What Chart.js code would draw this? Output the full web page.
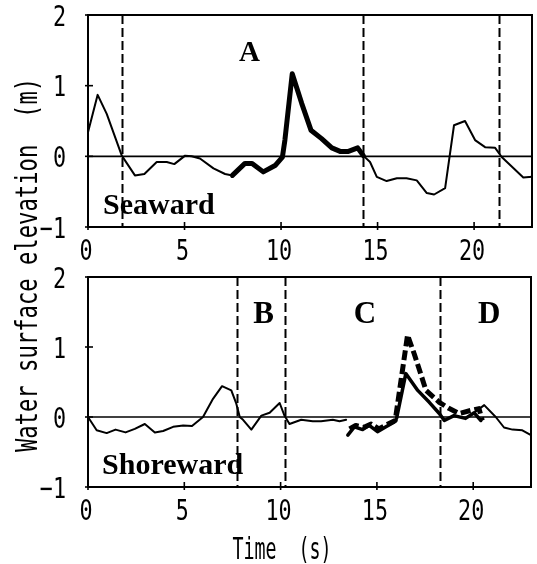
<!DOCTYPE html>
<html>
<head>
<meta charset="utf-8">
<script src="https://cdn.jsdelivr.net/npm/chart.js@4/dist/chart.umd.min.js"></script>
<style>
  html, body { margin: 0; padding: 0; background: #fff; }
  #wrap { position: relative; width: 537px; height: 564px; }
  #wrap canvas { position: absolute; left: 0; top: 0; }
</style>
</head>
<body>
<div id="wrap">
  <canvas id="seaward" width="537" height="564"></canvas>
  <canvas id="shoreward" width="537" height="564"></canvas>
</div>
<script>
// Water surface elevation records (time in s, elevation in m)

const xTicks = [0, 5, 10, 15, 20];
const yTicks = [-1, 0, 1, 2];

// seaward gauge, full record
const seaTime = [0, 0.5, 0.97, 1.75, 2.43, 2.92, 3.56, 4.08, 4.47, 5.03, 5.37, 5.8, 6.5, 7.1, 7.48,
  8.13, 8.5, 9.08, 9.69, 10.07, 10.2, 10.58, 11.07, 11.55, 12.1, 12.63, 13.06, 13.49, 13.97, 14.26,
  14.61, 14.96, 15.47, 16.0, 16.5, 17.03, 17.55, 17.93, 18.5, 18.96, 19.53, 20.05, 20.57, 21.09,
  21.43, 22.55, 23];
const seaElev = [0.34, 0.87, 0.6, 0.01, -0.27, -0.25, -0.08, -0.08, -0.11, 0.01, 0.0, -0.03, -0.17, -0.25, -0.27,
  -0.1, -0.1, -0.22, -0.13, -0.01, 0.23, 1.17, 0.75, 0.37, 0.25, 0.12, 0.07, 0.07, 0.12, 0.01,
  -0.08, -0.29, -0.35, -0.31, -0.31, -0.34, -0.52, -0.54, -0.45, 0.44, 0.5, 0.23, 0.13, 0.12,
  -0.01, -0.3, -0.29];

// seaward gauge, highlighted wave A
const waveATime = [7.48, 8.13, 8.5, 9.08, 9.69, 10.07, 10.2, 10.58, 11.07, 11.55, 12.1, 12.63, 13.06, 13.49, 13.97, 14.26];
const waveAElev = [-0.27, -0.1, -0.1, -0.22, -0.13, -0.01, 0.23, 1.17, 0.75, 0.37, 0.25, 0.12, 0.07, 0.07, 0.12, 0.01];

// shoreward gauge (null = gap in record)
const shoreTime = [0, 0.45, 0.97, 1.43, 1.95, 2.43, 2.95, 3.47, 3.9, 4.42, 4.94, 5.4, 5.97, 6.49, 6.96, 7.44,
  7.7, 7.88, 8.05, 8.48, 9.0, 9.43, 9.95, 10.2, 10.46, 11.07, 11.67, 12.1, 12.71, 13.06, 13.4,
  17.0, 20.05, 20.57, 21.17, 21.6, 22.04, 22.55, 23];
const shoreElev = [0, -0.19, -0.23, -0.18, -0.22, -0.17, -0.1, -0.22, -0.2, -0.14, -0.12, -0.13, 0, 0.26, 0.44, 0.38,
  0.19, 0.0, -0.04, -0.18, 0.02, 0.06, 0.2, 0.02, -0.1, -0.04, -0.06, -0.06, -0.04, -0.06, -0.04,
  null, 0.06, 0.17, 0, -0.15, -0.18, -0.19, -0.26];

// shoreward gauge, wave C (solid)
const waveCTime = [13.49, 13.83, 14.26, 14.6, 15.03, 15.47, 15.9, 16.02, 16.5, 17.12, 17.72, 18.24, 18.5, 19.0, 19.6, 20.05, 20.4];
const waveCElev = [-0.26, -0.14, -0.18, -0.12, -0.21, -0.14, -0.07, -0.02, 0.62, 0.38, 0.21, 0.05, -0.05, 0.02, -0.02, 0.06, -0.05];

// shoreward gauge, wave C (dashed)
const waveCdTime = [13.58, 13.9, 14.3, 14.7, 15.1, 15.5, 15.95, 16.59, 16.94, 17.55, 18.24, 18.76, 19.27, 19.96, 20.3, 20.47];
const waveCdElev = [-0.17, -0.12, -0.15, -0.1, -0.17, -0.11, -0.05, 1.17, 0.9, 0.38, 0.21, 0.12, 0.05, 0.1, 0.12, -0.05];

// dashed separators between wave groups
const seaDividers = [1.75, 14.26, 21.3];
const shoreDividers = [7.76, 10.24, 18.25];

const MONO = "'DejaVu Sans Mono', monospace";
const SERIF = "'Liberation Serif', 'Times New Roman', serif";

function points(xs, ys) {
  return xs.map((x, i) => ({ x, y: ys[i] }));
}

function line(xs, ys, width, dash) {
  return {
    data: points(xs, ys),
    borderColor: '#000',
    borderWidth: width,
    borderDash: dash || [],
    pointRadius: 0,
    tension: 0,
    fill: false,
    spanGaps: false,
    borderJoinStyle: 'round',
    borderCapStyle: dash ? 'butt' : 'round'
  };
}

// narrow text, like the old plotter lettering
function squeezedText(ctx, text, x, y, sx, align) {
  ctx.save();
  ctx.translate(x, y);
  ctx.scale(sx, 1);
  ctx.textAlign = align;
  ctx.fillText(text, 0, 0);
  ctx.restore();
}

function panelPlugin(cfg) {
  return {
    id: 'panel',
    beforeDatasetsDraw(chart) {
      const { ctx, chartArea: a, scales: { x, y } } = chart;
      ctx.save();
      ctx.strokeStyle = '#000';
      // zero line
      ctx.lineWidth = 1.6;
      const y0 = y.getPixelForValue(0);
      ctx.beginPath();
      ctx.moveTo(a.left, y0);
      ctx.lineTo(a.right, y0);
      ctx.stroke();
      // separators
      ctx.lineWidth = 2;
      ctx.setLineDash([9, 4]);
      cfg.dividers.forEach(t => {
        const px = Math.round(x.getPixelForValue(t)) + 0.5;
        ctx.beginPath();
        ctx.moveTo(px, a.top);
        ctx.lineTo(px, a.bottom);
        ctx.stroke();
      });
      ctx.restore();
    },
    afterDatasetsDraw(chart) {
      const { ctx, chartArea: a, scales: { x, y } } = chart;
      ctx.save();
      ctx.strokeStyle = '#000';
      ctx.fillStyle = '#000';
      ctx.lineWidth = 2;
      ctx.strokeRect(a.left, a.top, a.right - a.left, a.bottom - a.top);

      // tick marks crossing the axes
      ctx.lineWidth = 1.6;
      xTicks.forEach(t => {
        const px = x.getPixelForValue(t);
        ctx.beginPath();
        ctx.moveTo(px, a.bottom - 5);
        ctx.lineTo(px, a.bottom + 3);
        ctx.stroke();
      });
      yTicks.forEach(v => {
        const py = y.getPixelForValue(v);
        ctx.beginPath();
        ctx.moveTo(a.left - 3, py);
        ctx.lineTo(a.left + 5, py);
        ctx.stroke();
      });

      // tick labels
      ctx.font = '29px ' + MONO;
      ctx.textBaseline = 'middle';
      yTicks.forEach(v => {
        squeezedText(ctx, String(v).replace('-', '\u2212'), a.left - 22, y.getPixelForValue(v) + 3, 0.75, 'right');
      });
      ctx.textBaseline = 'alphabetic';
      xTicks.forEach(t => {
        squeezedText(ctx, String(t), x.getPixelForValue(t) - 2, a.bottom + 33, 0.75, 'center');
      });

      // wave group letters and gauge name
      ctx.textBaseline = 'alphabetic';
      cfg.letters.forEach(l => {
        ctx.font = 'bold ' + l.size + 'px ' + SERIF;
        ctx.textAlign = 'center';
        ctx.fillText(l.text, x.getPixelForValue(l.t), y.getPixelForValue(l.v));
      });
      ctx.font = 'bold 30px ' + SERIF;
      ctx.textAlign = 'left';
      ctx.fillText(cfg.name, x.getPixelForValue(cfg.nameAt[0]), y.getPixelForValue(cfg.nameAt[1]));

      if (cfg.axisTitles) {
        ctx.font = '30px ' + MONO;
        // shared y title, reads bottom to top
        ctx.save();
        ctx.translate(37, 265);
        ctx.rotate(-Math.PI / 2);
        ctx.scale(0.74, 1);
        ctx.textAlign = 'center';
        ctx.fillText('Water surface elevation  (m)', 0, 0);
        ctx.restore();
      }
      if (cfg.timeTitle) {
        ctx.font = '30px ' + MONO;
        squeezedText(ctx, 'Time  (s)', 282, 559, 0.61, 'center');
      }
      ctx.restore();
    }
  };
}

function makePanel(id, datasets, padding, xHeight, cfg) {
  return new Chart(document.getElementById(id), {
    type: 'line',
    data: { datasets },
    plugins: [panelPlugin(cfg)],
    options: {
      responsive: false,
      animation: false,
      devicePixelRatio: 1,
      layout: { padding },
      plugins: { legend: { display: false }, tooltip: { enabled: false } },
      scales: {
        x: {
          type: 'linear', min: 0, max: 23,
          ticks: { display: false }, grid: { display: false }, border: { display: false },
          afterFit(s) { s.height = xHeight; }
        },
        y: {
          min: -1, max: 2,
          ticks: { display: false }, grid: { display: false }, border: { display: false },
          afterFit(s) { s.width = 88; }
        }
      }
    }
  });
}

makePanel('seaward', [
  line(waveATime, waveAElev, 5),
  line(seaTime, seaElev, 2)
], { top: 15, right: 5, bottom: 302, left: 0 }, 35, {
  dividers: seaDividers,
  letters: [{ text: 'A', t: 8.37, v: 1.355, size: 29 }],
  name: 'Seaward', nameAt: [0.78, -0.82],
  axisTitles: true
});

makePanel('shoreward', [
  line(waveCdTime, waveCdElev, 5, [10, 4]),
  line(waveCTime, waveCElev, 3.5),
  line(shoreTime, shoreElev, 2)
], { top: 277, right: 6, bottom: 0, left: 0 }, 77, {
  dividers: shoreDividers,
  letters: [
    { text: 'B', t: 9.12, v: 1.34, size: 31 },
    { text: 'C', t: 14.38, v: 1.34, size: 31 },
    { text: 'D', t: 20.83, v: 1.34, size: 31 }
  ],
  name: 'Shoreward', nameAt: [0.73, -0.82],
  timeTitle: true
});
</script>
</body>
</html>
